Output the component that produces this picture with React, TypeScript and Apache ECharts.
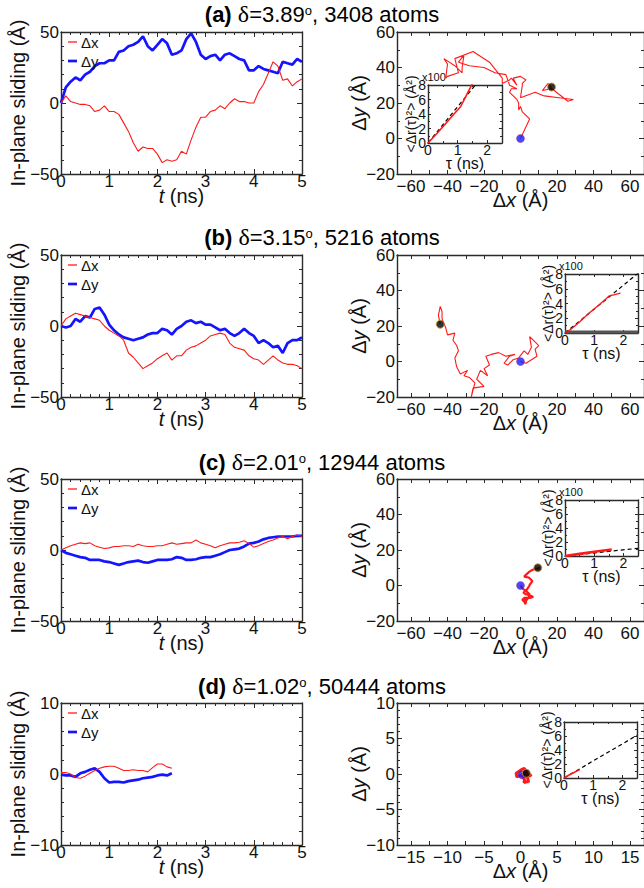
import React, { useEffect, useRef } from "react";
import * as echarts from "echarts";

// ---------------- data ----------------
const tFull = [0, 0.1, 0.2, 0.3, 0.4, 0.5, 0.6, 0.7, 0.8, 0.9, 1.0, 1.1, 1.2, 1.3, 1.4, 1.5, 1.6, 1.7, 1.8, 1.9, 2.0, 2.1, 2.2, 2.3, 2.4, 2.5, 2.6, 2.7, 2.8, 2.9, 3.0, 3.1, 3.2, 3.3, 3.4, 3.5, 3.6, 3.7, 3.8, 3.9, 4.0, 4.1, 4.2, 4.3, 4.4, 4.5, 4.6, 4.7, 4.8, 4.9, 5.0];
const tShort = [0, 0.1, 0.2, 0.3, 0.4, 0.5, 0.6, 0.7, 0.8, 0.9, 1.0, 1.1, 1.2, 1.3, 1.4, 1.5, 1.6, 1.7, 1.8, 1.9, 2.0, 2.1, 2.2, 2.3];

// (a) delta = 3.89
const dxA = [0, 5, 1, 0, -1, -1, -2, -6, -5, -2, -6, -6, -8, -14, -20, -28, -34, -31, -32, -32, -36, -42, -40, -41, -40, -34, -36, -26, -17, -10, -10, -6, -5, -2, -4, 0, 3, 1, 1, 0, 0, 8, 13, 21, 29, 26, 16, 17, 12, 15, 17];
const dyA = [0, 11, 15, 18, 16, 20, 22, 26, 28, 28, 30, 30, 36, 37, 40, 41, 43, 47, 40, 37, 41, 45, 42, 34, 35, 37, 45, 49, 43, 34, 31, 33, 34, 30, 34, 35, 33, 31, 30, 23, 23, 26, 24, 23, 22, 21, 29, 28, 27, 31, 29];
// (b) delta = 3.15
const dxB = [0, 5, 7, 9, 8, 7, 6, 5, 4, 0, -3, -5, -7, -10, -19, -22, -26, -30, -28, -26, -23, -21, -19, -24, -21, -21, -17, -15, -14, -12, -10, -7, -6, -5, -6, -12, -15, -16, -17, -21, -23, -24, -27, -24, -21, -24, -26, -27, -27, -28, -30];
const dyB = [0, -1, 0, 5, 3, 7, 6, 12, 13, 8, 1, -3, -6, -8, -9, -10, -9, -8, -6, -5, -5, -2, -3, -6, -2, 0, 3, 4, 2, 3, 1, 1, -1, -3, -2, -5, -7, -5, -2, -5, -7, -12, -10, -12, -15, -14, -19, -12, -10, -10, -8];
const trajBx = [0, 3, 6, 9, 8, 10, 7, 5, 6, 4, 2, -1, -4, -7, -9, -6, -3, -8, -12, -16, -19, -17, -20, -18, -22, -24, -20, -26, -27, -25, -28, -31, -29, -33, -35, -36, -34, -35, -37, -36, -40, -41, -43, -43, -44, -45, -44];
const trajBy = [0, -1, 1, 3, 7, 9, 12, 14, 8, 4, 6, 2, 1, -2, -1, 3, 4, 3, 5, 4, 3, -2, -4, -8, -5, -10, -14, -15, -20, -12, -9, -8, -5, -7, -3, 2, 6, 9, 12, 16, 15, 19, 24, 28, 31, 26, 21];
// (c) delta = 2.01
const dxC = [0, 1.5, 3, 4, 5, 4.5, 5, 3, 2, 1, 1.5, 2.5, 2.5, 3, 3, 2.5, 4, 3, 2.5, 2.5, 3, 3, 4, 5, 4, 4.5, 5, 5, 7, 5, 4, 3, 1.5, 3, 4, 5, 5, 5.5, 6.5, 4.5, 2, 3, 4.5, 6, 7, 8.5, 9.5, 8, 9.5, 10.5, 9.5];
const dyC = [0, -2, -3, -4, -5, -5.5, -7, -7, -7, -8, -8.5, -9.5, -10.5, -9.5, -8.5, -8, -7.5, -8.5, -9, -8, -7, -7, -7, -6.5, -5, -5.5, -7, -7, -6.5, -5.5, -5, -5, -4, -3, -1.5, 0, 0.5, 1, 2.5, 4.5, 5, 6, 7.5, 8.5, 9, 9.5, 9.5, 9.5, 9.5, 10, 10];
// (d) delta = 1.02
const dxD = [0.2, 0.2, 0, -0.5, -0.6, -0.3, 0.1, 0.5, 0.8, 1.0, 1.1, 1.1, 0.8, 0.5, 0.5, 0.6, 0.5, 0.5, 0.3, 0.9, 1.4, 1.4, 1.0, 0.8];
const dyD = [-0.1, -0.2, -0.2, -0.4, 0.1, 0.3, 0.6, 0.8, 0.3, -0.6, -1.2, -1.1, -1.1, -1.2, -1.0, -0.9, -0.8, -0.6, -0.5, -0.4, -0.2, -0.1, -0.2, 0.1];

// insets: mean square displacement (x100 Å^2) vs tau (ns)
const tauA = [0, 0.3, 0.6, 0.9, 1.1, 1.3, 1.5];
const msdA = [0, 1.3, 2.7, 4.1, 5.0, 6.6, 8.2];
const tauFitA = [0, 2.5];
const fitA = [0, 12.5];
const tauB = [0, 0.2, 0.5, 0.8, 1.1, 1.4, 1.5, 1.7, 1.9];
const msdB = [0, 0.5, 1.5, 2.6, 3.6, 4.6, 5.0, 5.2, 5.4];
const tauFitB = [0, 2.5];
const fitB = [0, 8.1];
const tauGreyB = [0, 2.5];
const greyB = [0.12, 0.12];
const tauC = [0, 0.5, 1.0, 1.6];
const msdC = [0, 0.3, 0.6, 0.93];
const tauFitC = [0, 2.5];
const fitC = [0, 1.1];
const tauD = [0, 0.25, 0.54];
const msdD = [0, 0.6, 1.2];
const tauFitD = [0, 2.5];
const fitD = [0, 6.1];

const panelTags = ["(a)", "(b)", "(c)", "(d)"];
const deltas = ["3.89", "3.15", "2.01", "1.02"];
const atomCounts = ["3408", "5216", "12944", "50444"];
const legendNames = ["Δx", "Δy"];

const xTicksWide = [-60, -40, -20, 0, 20, 40, 60];
const xMinorWide = [-60, -50, -40, -30, -20, -10, 0, 10, 20, 30, 40, 50, 60];
const xTicksNarrow = [-15, -10, -5, 0, 5, 10, 15];
const xMinorNarrow = [-15, -12.5, -10, -7.5, -5, -2.5, 0, 2.5, 5, 7.5, 10, 12.5, 15];
const tauLabels = [0, 1, 2];

// ---------------- layout / style ----------------
const FONT = 'Arial, "Liberation Sans", Helvetica, sans-serif';
const SERIF = '"Liberation Serif", "DejaVu Serif", "Times New Roman", serif';
const AX = "#2b2b2b";
const RED = "#ff1a1a";
const BLUE = "#1414ff";

const ROW_TOP = [32, 255, 479, 703];
const TITLE_Y = [14, 237, 462, 686];
const PLOT_H = 142;
const LEFT_X = 61;
const LEFT_W = 241;
const RIGHT_X = 397;
const RIGHT_W = 250;
const INSETS = [
  { left: 428, top: 85, width: 74, height: 58, x100: true },
  { left: 565, top: 274, width: 73, height: 59, x100: true },
  { left: 565, top: 500, width: 73, height: 56, x100: true },
  { left: 564, top: 722, width: 73, height: 56, x100: false },
];

const pairs = (xs: number[], ys: number[]) => xs.map((x, k) => [x, ys[k]]);
const fmt = (v: number) => (v < 0 ? "\u2212" + String(Math.abs(v)) : String(v));

type Spec = {
  min: number;
  max: number;
  interval?: number;
  minor?: number;
  labels?: number[];
  ticks?: number[];
  font: number;
  labelLH: number;
  margin: number;
  tick: number;
  name: string;
  nameGap: number;
  nameSize: number;
  nameLH: number;
};

function axisPair(dim: "x" | "y", gridIndex: number, s: Spec) {
  const common: any = {
    type: "value",
    gridIndex,
    min: s.min,
    max: s.max,
    splitLine: { show: false },
    minorSplitLine: { show: false },
    axisLine: { show: true, onZero: false, lineStyle: { color: AX, width: 1.4 } },
    axisTick: {
      show: true,
      inside: true,
      length: s.tick,
      lineStyle: { color: AX, width: 1 },
    },
    minorTick: {
      show: !!s.minor,
      splitNumber: s.minor || 5,
      length: Math.max(2, Math.round(s.tick * 0.6)),
      lineStyle: { color: AX, width: 1 },
    },
  };
  if (s.interval) common.interval = s.interval;
  if (s.ticks) common.axisTick.customValues = s.ticks;
  const label: any = {
    show: true,
    fontSize: s.font,
    lineHeight: s.labelLH,
    fontFamily: FONT,
    color: "#111",
    margin: s.margin,
    formatter: fmt,
  };
  if (s.labels) label.customValues = s.labels;
  else {
    label.showMinLabel = true;
    label.showMaxLabel = true;
  }
  const main = {
    ...common,
    position: dim === "x" ? "bottom" : "left",
    axisLabel: label,
    name: s.name,
    nameLocation: "middle",
    nameGap: s.nameGap,
    nameMoveOverlap: false,
    nameTextStyle: {
      fontSize: s.nameSize,
      lineHeight: s.nameLH,
      fontFamily: FONT,
      color: "#111",
      rich: {
        i: { fontStyle: "italic", fontSize: s.nameSize, lineHeight: s.nameLH, fontFamily: FONT, color: "#111" },
        d: { fontSize: s.nameSize, lineHeight: s.nameLH, fontFamily: FONT, color: "#111" },
      },
    },
  };
  const mirror = {
    ...common,
    position: dim === "x" ? "top" : "right",
    axisLabel: { show: false },
    name: "",
  };
  return [main, mirror];
}

function buildOption() {
  const grid: any[] = [];
  const xAxis: any[] = [];
  const yAxis: any[] = [];
  const series: any[] = [];
  const title: any[] = [];
  const graphic: any[] = [];

  const timeData = [
    { t: tFull, dx: dxA, dy: dyA },
    { t: tFull, dx: dxB, dy: dyB },
    { t: tFull, dx: dxC, dy: dyC },
    { t: tShort, dx: dxD, dy: dyD },
  ];
  const trajData = [
    { x: dxA, y: dyA, w: 1.1 },
    { x: trajBx, y: trajBy, w: 1.1 },
    { x: dxC, y: dyC, w: 2.2 },
    { x: dxD, y: dyD, w: 3 },
  ];
  const msdData = [
    { tau: tauA, msd: msdA, tf: tauFitA, fit: fitA, w: 1.6 },
    { tau: tauB, msd: msdB, tf: tauFitB, fit: fitB, w: 1.4 },
    { tau: tauC, msd: msdC, tf: tauFitC, fit: fitC, w: 2.6 },
    { tau: tauD, msd: msdD, tf: tauFitD, fit: fitD, w: 1.6 },
  ];

  for (let i = 0; i < 4; i++) {
    const top = ROW_TOP[i];
    const isD = i === 3;

    // ---- title ----
    title.push({
      text: `{b|${panelTags[i]}}{n| }{g|δ}{n|=${deltas[i]}}{s|o}{n|, ${atomCounts[i]} atoms}`,
      left: "center",
      top: TITLE_Y[i] - 10,
      padding: 0,
      textStyle: {
        fontSize: 22,
        fontWeight: "normal",
        fontFamily: FONT,
        color: "#000",
        rich: {
          b: { fontSize: 22, fontWeight: "bold", fontFamily: FONT, color: "#000", lineHeight: 20 },
          g: { fontSize: 24, fontWeight: "normal", fontFamily: SERIF, color: "#000", lineHeight: 20 },
          n: { fontSize: 22, fontWeight: "normal", fontFamily: FONT, color: "#000", lineHeight: 20 },
          s: { fontSize: 13, fontWeight: "normal", fontFamily: FONT, color: "#000", lineHeight: 11, verticalAlign: "top" },
        },
      },
    });

    // ---- left panel: time series ----
    const gL = grid.length;
    grid.push({ left: LEFT_X, top, width: LEFT_W, height: PLOT_H });
    xAxis.push(
      ...axisPair("x", gL, {
        min: 0, max: 5, interval: 1, minor: 5, font: 17, labelLH: 12, margin: 1, tick: 5,
        name: "{i|t} (ns)", nameGap: 14, nameSize: 20, nameLH: 16,
      })
    );
    yAxis.push(
      ...axisPair("y", gL, {
        min: isD ? -10 : -50, max: isD ? 10 : 50, interval: isD ? 10 : 50, minor: 5,
        font: 17, labelLH: 12, margin: 2, tick: 5,
        name: "In-plane sliding (Å)", nameGap: 35, nameSize: 20, nameLH: 16,
      })
    );
    const td = timeData[i];
    series.push({
      type: "line", name: legendNames[1], xAxisIndex: 2 * gL, yAxisIndex: 2 * gL,
      data: pairs(td.t, td.dy), symbol: "none", showSymbol: false,
      lineStyle: { color: BLUE, width: 2.7 }, itemStyle: { color: BLUE }, z: 2,
    });
    series.push({
      type: "line", name: legendNames[0], xAxisIndex: 2 * gL, yAxisIndex: 2 * gL,
      data: pairs(td.t, td.dx), symbol: "none", showSymbol: false,
      lineStyle: { color: RED, width: 1.1 }, itemStyle: { color: RED }, z: 3,
    });
    // legend (drawn as line + text)
    const legY = [top + 10, top + 29];
    graphic.push({
      type: "line", z: 100,
      shape: { x1: 68, y1: legY[0], x2: 77, y2: legY[0] },
      style: { stroke: RED, lineWidth: 1.3 },
    });
    graphic.push({
      type: "line", z: 100,
      shape: { x1: 68, y1: legY[1], x2: 77, y2: legY[1] },
      style: { stroke: BLUE, lineWidth: 2.7 },
    });
    for (let k = 0; k < 2; k++) {
      graphic.push({
        type: "text", z: 100, x: 81, y: legY[k],
        style: {
          text: legendNames[k], fontSize: 15, fontFamily: FONT, fill: "#111",
          verticalAlign: "middle", textVerticalAlign: "middle",
        },
      });
    }

    // ---- right panel: trajectory ----
    const gR = grid.length;
    grid.push({ left: RIGHT_X, top, width: RIGHT_W, height: PLOT_H });
    xAxis.push(
      ...axisPair("x", gR, {
        min: isD ? -16.9 : -67.7, max: isD ? 16.9 : 67.7,
        labels: isD ? xTicksNarrow : xTicksWide, ticks: isD ? xMinorNarrow : xMinorWide,
        font: 17, labelLH: 12, margin: 6, tick: 4,
        name: "{d|Δ}{i|x} (Å)", nameGap: 18, nameSize: 20, nameLH: 16,
      })
    );
    yAxis.push(
      ...axisPair("y", gR, {
        min: isD ? -10 : -20, max: isD ? 10 : 60, interval: isD ? 5 : 20, minor: isD ? 5 : 2,
        font: 17, labelLH: 12, margin: 2, tick: 5,
        name: "{d|Δ}{i|y} (Å)", nameGap: 30, nameSize: 20, nameLH: 16,
      })
    );
    const tr = trajData[i];
    series.push({
      type: "line", name: "traj" + i, xAxisIndex: 2 * gR, yAxisIndex: 2 * gR,
      data: pairs(tr.x, tr.y), symbol: "none", showSymbol: false,
      lineStyle: { color: RED, width: tr.w }, itemStyle: { color: RED }, z: 2,
    });
    const last = tr.x.length - 1;
    series.push({
      type: "scatter", name: "start" + i, xAxisIndex: 2 * gR, yAxisIndex: 2 * gR,
      data: [[tr.x[0], tr.y[0]]], symbolSize: 8,
      itemStyle: { color: "#1a1aff", borderColor: "#a03070", borderWidth: 0.6 }, z: 4,
    });
    series.push({
      type: "scatter", name: "end" + i, xAxisIndex: 2 * gR, yAxisIndex: 2 * gR,
      data: [[tr.x[last], tr.y[last]]], symbolSize: 8,
      itemStyle: { color: "#000", borderColor: "#c8962a", borderWidth: 1 }, z: 4,
    });

    // ---- inset: MSD ----
    const ins = INSETS[i];
    const gI = grid.length;
    grid.push({ left: ins.left, top: ins.top, width: ins.width, height: ins.height, show: true, backgroundColor: "#fff", borderWidth: 0 });
    xAxis.push(
      ...axisPair("x", gI, {
        min: 0, max: 2.5, interval: 1, minor: 2, labels: tauLabels, font: 14, labelLH: 10, margin: 2, tick: 3,
        name: "τ (ns)", nameGap: 12, nameSize: 16, nameLH: 16,
      })
    );
    yAxis.push(
      ...axisPair("y", gI, {
        min: 0, max: 8, interval: 2, minor: 2, font: 14, labelLH: 10, margin: 2, tick: 3,
        name: "<Δr(τ)²> (Å²)", nameGap: 10, nameSize: 14, nameLH: 14,
      })
    );
    const md = msdData[i];
    if (i === 1) {
      series.push({
        type: "line", name: "grey" + i, xAxisIndex: 2 * gI, yAxisIndex: 2 * gI,
        data: pairs(tauGreyB, greyB), symbol: "none",
        lineStyle: { color: "#555", width: 3 }, z: 5,
      });
    }
    series.push({
      type: "line", name: "fit" + i, xAxisIndex: 2 * gI, yAxisIndex: 2 * gI,
      data: pairs(md.tf, md.fit), symbol: "none",
      lineStyle: { color: "#000", width: 1.2, type: [4, 3] }, z: 5,
    });
    series.push({
      type: "line", name: "msd" + i, xAxisIndex: 2 * gI, yAxisIndex: 2 * gI,
      data: pairs(md.tau, md.msd), symbol: "none",
      lineStyle: { color: RED, width: md.w }, z: 6,
    });
    if (ins.x100) {
      graphic.push({
        type: "text",
        x: ins.left - 6,
        y: ins.top - 14,
        style: { text: "x100", fontSize: 11, fontFamily: FONT, fill: "#111" },
      });
    }
  }

  return {
    animation: false,
    backgroundColor: "#fff",
    title,
    grid,
    xAxis,
    yAxis,
    series,
    graphic,
  };
}

export default function App() {
  const ref = useRef<HTMLDivElement>(null);
  useEffect(() => {
    if (!ref.current) return;
    const chart = echarts.init(ref.current, null, { renderer: "svg" });
    chart.setOption(buildOption() as any);
    return () => chart.dispose();
  }, []);
  return (
    <div
      ref={ref}
      style={{ position: "absolute", left: 0, top: 0, width: 644, height: 888, background: "#fff" }}
    />
  );
}
